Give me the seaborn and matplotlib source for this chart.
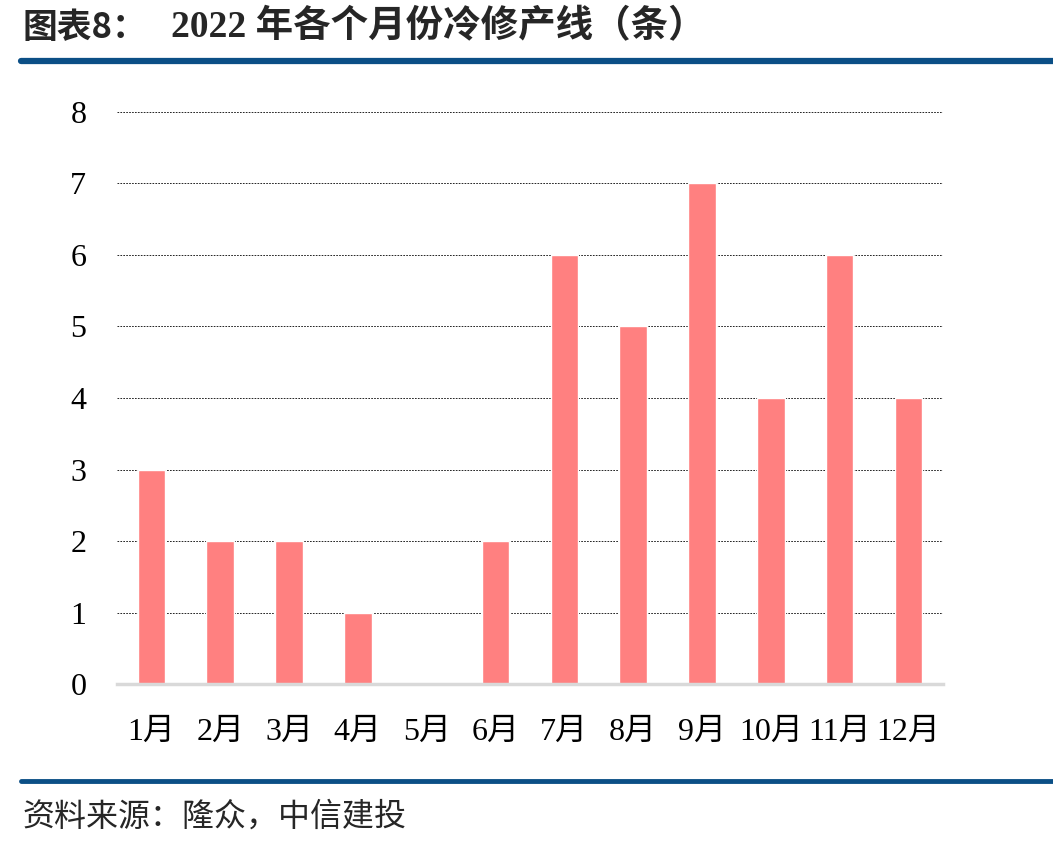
import matplotlib
matplotlib.use("Agg")
import matplotlib.pyplot as plt
import seaborn as sns
import pandas as pd

months = ["1月", "2月", "3月", "4月", "5月", "6月", "7月", "8月", "9月", "10月", "11月", "12月"]
lines = [3, 2, 2, 1, 0, 2, 6, 5, 7, 4, 6, 4]
yticks = [0, 1, 2, 3, 4, 5, 6, 7, 8]

df = pd.DataFrame({"month": months, "lines": lines})

sns.set_style("white")
plt.rcParams['font.family'] = ['Liberation Serif', 'Noto Sans CJK SC']

fig = plt.figure(figsize=(10.53, 8.47), dpi=100)
ax = fig.add_axes([0.111, 0.1924, 0.7845, 0.6754])

sns.barplot(data=df, x="month", y="lines", color="#FF8080", saturation=1,
            width=0.4, ax=ax, zorder=3)

ax.set_ylim(0, 8)
ax.set_xlim(-0.5, 11.5)
ax.set_yticks(yticks)
ax.set_yticklabels([str(v) for v in yticks])
ax.yaxis.grid(True, color="black", linestyle=(0, (2, 1.5)), linewidth=0.6, zorder=0)
ax.set_axisbelow(True)
ax.set_xlabel("")
ax.set_ylabel("")
for s in ["top", "right", "left"]:
    ax.spines[s].set_visible(False)
ax.spines["bottom"].set_color("#D9D9D9")
ax.spines["bottom"].set_linewidth(2.5)
ax.spines["bottom"].set_zorder(4)
ax.tick_params(axis="both", length=0, labelsize=23, colors="black")
ax.tick_params(axis="y", pad=22)
ax.tick_params(axis="x", pad=24)

# title
fig.text(0.021, 0.968, "图表8：", fontsize=25, fontweight="bold", va="center",
         family=["Noto Sans CJK SC"])
fig.text(0.162, 0.968, "2022 年各个月份冷修产线（条）", fontsize=27, fontweight="bold",
         va="center", family=["Liberation Serif", "Noto Sans CJK SC"])

# blue rules
fig.add_artist(plt.Line2D([0.02, 1.0], [0.928, 0.928], color="#0B4F86", linewidth=4.5))
fig.add_artist(plt.Line2D([0.02, 1.0], [0.078, 0.078], color="#0B4F86", linewidth=3.5))

# source
fig.text(0.021, 0.036, "资料来源：隆众，中信建投", fontsize=23, style="italic",
         va="center", family=["Noto Sans CJK SC"])

fig.savefig("out.png", dpi=100)
